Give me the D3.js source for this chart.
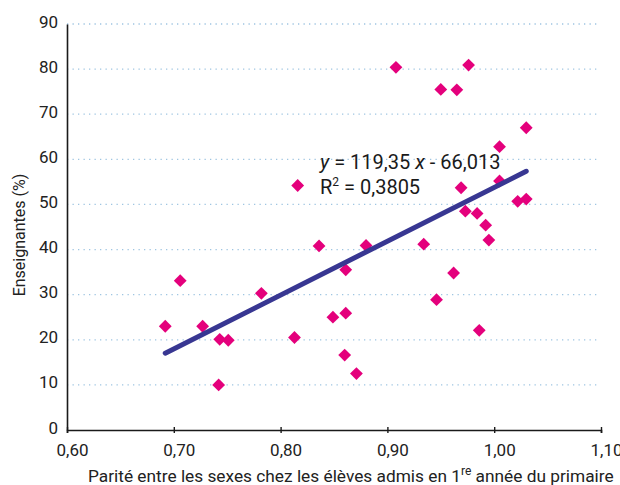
<!DOCTYPE html>
<html>
<head>
<meta charset="utf-8">
<script src="https://cdn.jsdelivr.net/npm/d3@7"></script>
<style>
  body { margin: 0; background: #fff; }
  svg { display: block; font-family: Roboto, "Noto Sans", sans-serif; }
</style>
</head>
<body>
<div id="chart"></div>
<script>
// parité (x) et part d'enseignantes en % (y)
const parity = [0.692, 0.706, 0.727, 0.743, 0.751, 0.742, 0.782, 0.813, 0.816, 0.836,
  0.849, 0.861, 0.861, 0.860, 0.871, 0.880, 0.908, 0.934, 0.946, 0.950,
  0.965, 0.976, 0.962, 0.969, 0.973, 0.984, 0.992, 0.995, 0.986, 1.005,
  1.005, 1.022, 1.030, 1.030];
const teachers = [23.0, 33.1, 23.0, 20.1, 19.9, 10.0, 30.3, 20.5, 54.2, 40.8,
  25.0, 35.5, 25.9, 16.6, 12.5, 40.9, 80.4, 41.2, 28.9, 75.5,
  75.4, 80.9, 34.8, 53.7, 48.5, 48.0, 45.4, 42.1, 22.1, 62.8,
  55.2, 50.7, 51.2, 67.0];

const slope = 119.35;
const intercept = -66.013;
const r2 = "0,3805";

const xTicks = [0.6, 0.7, 0.8, 0.9, 1.0, 1.1];
const yTicks = [0, 10, 20, 30, 40, 50, 60, 70, 80, 90];

const width = 620;
const height = 485;
const margin = {top: 24, right: 19, bottom: 55, left: 67};

const fr = d3.formatLocale({decimal: ",", thousands: " ", grouping: [3], currency: ["", " €"]});

const svg = d3.select("#chart")
  .append("svg")
    .attr("width", width)
    .attr("height", height);

const x = d3.scaleLinear()
    .domain([0.6, 1.1])
    .range([margin.left, width - margin.right]);

const y = d3.scaleLinear()
    .domain([0, 90])
    .range([height - margin.bottom, margin.top]);

// gridlines
svg.append("g")
  .selectAll("line")
  .data(yTicks.filter(d => d > 0))
  .join("line")
    .attr("x1", margin.left)
    .attr("x2", width - margin.right - 4)
    .attr("y1", d => y(d))
    .attr("y2", d => y(d))
    .attr("stroke", "#9fc5e2")
    .attr("stroke-width", 1.3)
    .attr("stroke-dasharray", "1.3,4.2");

// x axis
const xAxis = svg.append("g")
  .attr("transform", "translate(0," + y(0) + ")")
  .call(d3.axisBottom(x).tickValues(xTicks).tickFormat(fr.format(".2f")).tickSizeOuter(0).tickSize(3));
xAxis.select(".domain").attr("stroke", "#1a1a1a").attr("stroke-width", 1.6);
xAxis.selectAll(".tick line").attr("y1", -3).attr("stroke", "#1a1a1a").attr("stroke-width", 1.4);
xAxis.selectAll(".tick text")
  .attr("x", 5)
  .attr("y", 26)
  .attr("dy", 0)
  .attr("font-size", 17)
  .attr("font-family", "Roboto")
  .attr("fill", "#222");

// y axis
const yAxis = svg.append("g")
  .attr("transform", "translate(" + margin.left + ",0)")
  .call(d3.axisLeft(y).tickValues(yTicks).tickSize(0).tickSizeOuter(0));
yAxis.select(".domain").attr("stroke", "#1a1a1a").attr("stroke-width", 1.6);
yAxis.selectAll(".tick text")
  .attr("x", -9)
  .attr("dy", 0)
  .attr("y", 3)
  .attr("font-size", 17)
  .attr("font-family", "Roboto")
  .attr("fill", "#222");

// points
const pts = parity.map((p, i) => ({p: p, t: teachers[i]}));
svg.append("g")
  .selectAll("path")
  .data(pts)
  .join("path")
    .attr("d", d3.symbol(d3.symbolSquare, 82))
    .attr("transform", d => "translate(" + x(d.p) + "," + y(d.t) + ") rotate(45)")
    .attr("fill", "#e4007c");

// regression line
const xMin = d3.min(parity);
const xMax = d3.max(parity);
svg.append("line")
  .attr("x1", x(xMin))
  .attr("y1", y(slope * xMin + intercept) - 2)
  .attr("x2", x(xMax))
  .attr("y2", y(slope * xMax + intercept) - 2)
  .attr("stroke", "#383792")
  .attr("stroke-width", 5)
  .attr("stroke-linecap", "round");

// equation
const eq = svg.append("text")
  .attr("x", 320)
  .attr("y", 169)
  .attr("font-size", 20)
  .attr("fill", "#1a1a1a");
eq.append("tspan").attr("font-style", "italic").text("y");
eq.append("tspan").text(" = " + fr.format(".2f")(slope) + " ");
eq.append("tspan").attr("font-style", "italic").text("x");
eq.append("tspan").text(" - " + fr.format(".3f")(-intercept));

const r = svg.append("text")
  .attr("x", 320)
  .attr("y", 194)
  .attr("font-size", 20)
  .attr("fill", "#1a1a1a");
r.append("tspan").text("R");
r.append("tspan").attr("font-size", 12).attr("dy", -8).text("2");
r.append("tspan").attr("dy", 8).text(" = " + r2);

// axis titles
const xt = svg.append("text")
  .attr("x", 88)
  .attr("y", 482)
  .attr("font-size", 17.3)
  .attr("fill", "#222");
xt.append("tspan").text("Parité entre les sexes chez les élèves admis en 1");
xt.append("tspan").attr("font-size", 12).attr("dy", -7).text("re");
xt.append("tspan").attr("dy", 7).text(" année du primaire");

svg.append("text")
  .attr("transform", "translate(25,235) rotate(-90)")
  .attr("text-anchor", "middle")
  .attr("font-size", 16)
  .attr("fill", "#222")
  .text("Enseignantes (%)");
</script>
</body>
</html>
